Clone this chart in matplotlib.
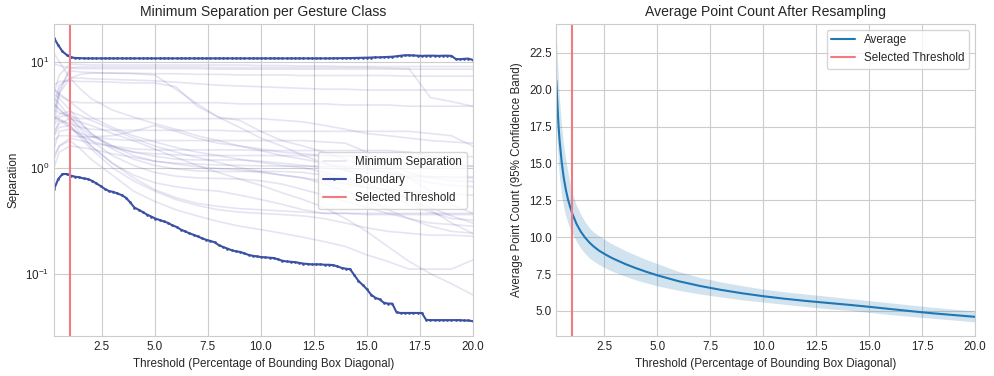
import numpy as np
import matplotlib
matplotlib.use("Agg")
import matplotlib.pyplot as plt
import seaborn as sns

sns.set_style("whitegrid")
plt.rcParams['font.family'] = ['Liberation Sans', 'DejaVu Sans']
plt.rcParams['mathtext.default'] = 'regular'

# ---------------- data ----------------
thresholds = np.linspace(0.25, 20.0, 100)
selected_threshold = 1.0

boundary_upper = [
    16.8, 14.3, 12.5, 11.6, 11.0, 10.85, 10.8, 10.77, 10.75, 10.75,
    10.75, 10.75, 10.75, 10.75, 10.75, 10.75, 10.75, 10.75, 10.75, 10.75,
    10.75, 10.75, 10.75, 10.75, 10.75, 10.75, 10.75, 10.75, 10.75, 10.75,
    10.75, 10.75, 10.75, 10.75, 10.75, 10.75, 10.75, 10.75, 10.75, 10.75,
    10.75, 10.75, 10.75, 10.75, 10.75, 10.75, 10.75, 10.75, 10.75, 10.75,
    10.75, 10.75, 10.75, 10.75, 10.75, 10.75, 10.75, 10.75, 10.75, 10.75,
    10.75, 10.75, 10.75, 10.75, 10.75, 10.75, 10.77, 10.78, 10.8, 10.8,
    10.82, 10.85, 10.87, 10.9, 10.92, 10.95, 11.0, 11.0, 11.05, 11.1,
    11.15, 11.25, 11.4, 11.5, 11.5, 11.45, 11.4, 11.35, 11.4, 11.4,
    11.4, 11.35, 11.4, 11.4, 11.35, 10.6, 10.55, 10.65, 10.7, 10.4,
]
boundary_lower = [
    0.625, 0.78, 0.87, 0.87, 0.84, 0.82, 0.81, 0.79, 0.78, 0.75,
    0.71, 0.67, 0.63, 0.60, 0.59, 0.57, 0.55, 0.52, 0.47, 0.42,
    0.40, 0.38, 0.36, 0.345, 0.33, 0.32, 0.31, 0.30, 0.285, 0.275,
    0.26, 0.25, 0.24, 0.232, 0.224, 0.215, 0.208, 0.203, 0.197, 0.185,
    0.178, 0.172, 0.166, 0.162, 0.160, 0.155, 0.150, 0.147, 0.145, 0.143,
    0.142, 0.141, 0.14, 0.136, 0.132, 0.130, 0.129, 0.128, 0.126, 0.124,
    0.123, 0.122, 0.122, 0.122, 0.121, 0.121, 0.120, 0.117, 0.113, 0.111,
    0.110, 0.097, 0.085, 0.078, 0.071, 0.063, 0.059, 0.057, 0.053, 0.052,
    0.052, 0.043, 0.0424, 0.0424, 0.0424, 0.0424, 0.0424, 0.0424, 0.0365, 0.0363,
    0.0363, 0.0363, 0.0363, 0.0363, 0.0363, 0.0363, 0.0363, 0.036, 0.036, 0.0355,
]

class_thresholds = [0.25, 0.5, 1, 1.5, 2, 3, 4, 5, 6, 7, 8, 9, 10, 11, 12,
                    13, 14, 15, 16, 17, 18, 19, 20]
class_separations = [
    [5.0, 7.5, 9.5, 9.4, 9.3, 9.3, 9.3, 9.3, 9.3, 9.3, 9.3, 9.3, 9.2, 9.2, 9.1, 9.1, 9.0, 9.0, 9.0, 9.0, 9.0, 9.0, 9.0],
    [9.5, 9.2, 8.7, 8.6, 8.6, 8.6, 8.6, 8.6, 8.6, 8.6, 8.5, 8.5, 8.5, 8.5, 8.5, 8.5, 8.5, 8.5, 8.5, 8.5, 8.5, 8.5, 8.5],
    [3.0, 5.5, 8.2, 8.0, 7.9, 7.8, 7.8, 7.7, 7.7, 7.6, 7.6, 7.5, 7.5, 7.5, 7.4, 7.4, 7.4, 7.4, 7.4, 7.3, 7.3, 7.3, 7.3],
    [4.0, 6.0, 7.0, 7.0, 6.9, 6.8, 6.7, 6.6, 6.4, 6.2, 6.0, 5.9, 5.8, 5.7, 5.6, 5.5, 5.5, 5.4, 5.4, 5.4, 5.4, 5.4, 5.4],
    [2.5, 5.0, 8.8, 8.9, 8.9, 8.9, 8.9, 8.9, 8.9, 8.9, 8.8, 8.8, 8.8, 8.8, 8.8, 8.8, 8.8, 8.8, 8.7, 8.6, 4.6, 4.2, 3.8],
    [3.5, 5.0, 7.0, 7.6, 7.8, 7.8, 7.7, 7.5, 5.5, 4.0, 3.0, 2.4, 1.9, 1.6, 1.3, 1.1, 0.95, 0.8, 0.65, 0.5, 0.4, 0.3, 0.24],
    [6.0, 6.5, 6.6, 6.5, 6.5, 6.4, 6.3, 6.3, 5.8, 3.8, 3.0, 2.8, 2.2, 1.8, 1.6, 1.4, 1.2, 1.0, 0.9, 0.8, 0.72, 0.68, 0.66],
    [5.5, 4.8, 4.2, 4.1, 4.1, 4.1, 4.1, 4.1, 4.1, 4.1, 4.1, 4.0, 4.0, 4.0, 4.0, 4.0, 3.9, 3.9, 3.9, 3.8, 3.8, 3.8, 3.8],
    [4.0, 3.5, 3.0, 2.9, 2.9, 2.9, 2.9, 2.9, 2.9, 2.9, 2.9, 2.9, 2.9, 2.8, 2.7, 2.5, 2.3, 2.1, 2.0, 1.9, 1.8, 1.75, 1.7],
    [2.0, 2.8, 2.6, 2.4, 2.3, 2.25, 2.25, 2.25, 2.25, 2.25, 2.25, 2.2, 2.2, 2.2, 2.2, 2.2, 2.2, 2.2, 2.2, 2.2, 2.1, 2.0, 1.6],
    [1.8, 2.0, 2.0, 1.95, 1.95, 2.0, 2.2, 2.5, 2.2, 1.9, 1.7, 1.6, 1.5, 1.4, 1.35, 1.3, 1.28, 1.27, 1.27, 1.27, 1.27, 1.27, 1.27],
    [1.5, 2.2, 2.3, 2.1, 1.95, 1.85, 1.8, 1.8, 1.8, 1.8, 1.8, 1.8, 1.8, 1.8, 1.8, 1.75, 1.7, 1.4, 1.1, 0.9, 0.8, 0.75, 0.74],
    [1.2, 1.6, 1.9, 1.8, 1.7, 1.6, 1.5, 1.47, 1.47, 1.47, 1.47, 1.47, 1.45, 1.45, 1.45, 1.45, 1.45, 1.45, 1.45, 1.4, 1.3, 1.1, 1.03],
    [3.0, 2.8, 2.4, 2.0, 1.8, 1.55, 1.4, 1.35, 1.32, 1.3, 1.3, 1.3, 1.3, 1.3, 1.3, 1.3, 1.3, 1.28, 1.0, 0.8, 0.6, 0.45, 0.37],
    [4.5, 4.0, 3.0, 2.4, 2.0, 1.6, 1.4, 1.28, 1.2, 1.18, 1.18, 1.18, 1.15, 1.1, 1.05, 1.0, 0.95, 0.9, 0.85, 0.82, 0.82, 0.82, 0.82],
    [2.5, 3.0, 3.2, 2.6, 2.1, 1.6, 1.3, 1.15, 1.1, 1.08, 1.06, 1.05, 1.04, 1.03, 1.03, 1.03, 1.03, 1.03, 1.03, 1.03, 1.03, 1.03, 1.03],
    [5.0, 4.5, 3.5, 2.7, 2.1, 1.5, 1.2, 1.05, 0.97, 0.93, 0.92, 0.92, 0.92, 0.92, 0.9, 0.85, 0.75, 0.65, 0.55, 0.45, 0.38, 0.33, 0.32],
    [3.5, 3.3, 3.0, 2.3, 1.8, 1.3, 1.05, 0.9, 0.83, 0.8, 0.79, 0.78, 0.75, 0.7, 0.62, 0.55, 0.48, 0.42, 0.37, 0.33, 0.3, 0.29, 0.28],
    [4.0, 3.6, 2.8, 2.1, 1.6, 1.1, 0.85, 0.72, 0.66, 0.62, 0.6, 0.55, 0.5, 0.45, 0.4, 0.37, 0.37, 0.37, 0.37, 0.37, 0.37, 0.37, 0.37],
    [2.0, 2.4, 2.5, 2.0, 1.6, 1.1, 0.8, 0.62, 0.52, 0.46, 0.43, 0.41, 0.4, 0.39, 0.38, 0.37, 0.37, 0.36, 0.36, 0.36, 0.36, 0.36, 0.36],
    [3.0, 2.9, 2.5, 1.9, 1.5, 1.0, 0.75, 0.6, 0.5, 0.44, 0.4, 0.38, 0.37, 0.36, 0.35, 0.33, 0.3, 0.27, 0.25, 0.24, 0.23, 0.23, 0.225],
    [1.3, 1.6, 1.8, 1.5, 1.2, 0.85, 0.6, 0.48, 0.4, 0.35, 0.31, 0.28, 0.26, 0.24, 0.22, 0.2, 0.18, 0.15, 0.13, 0.11, 0.11, 0.11, 0.134],
    [2.2, 2.6, 2.9, 2.7, 2.5, 2.1, 1.8, 1.5, 1.25, 1.05, 0.9, 0.78, 0.68, 0.58, 0.5, 0.42, 0.33, 0.25, 0.18, 0.13, 0.1, 0.08, 0.063],
    [12.0, 10.0, 7.0, 5.5, 4.5, 3.5, 3.0, 2.6, 2.3, 2.0, 1.8, 1.6, 1.45, 1.3, 1.2, 1.1, 1.0, 0.95, 0.9, 0.85, 0.82, 0.8, 0.8],
    [5.5, 5.0, 4.2, 3.5, 3.0, 2.4, 2.0, 1.75, 1.55, 1.4, 1.3, 1.2, 1.12, 1.05, 1.0, 0.9, 0.8, 0.7, 0.6, 0.5, 0.42, 0.35, 0.3],
    [2.8, 3.2, 3.4, 3.1, 2.8, 2.3, 1.9, 1.6, 1.4, 1.25, 1.12, 1.0, 0.92, 0.85, 0.8, 0.75, 0.7, 0.65, 0.62, 0.6, 0.58, 0.56, 0.55],
    [1.0, 1.4, 1.6, 1.55, 1.5, 1.35, 1.25, 1.15, 1.08, 1.02, 0.98, 0.95, 0.9, 0.85, 0.8, 0.7, 0.6, 0.5, 0.4, 0.33, 0.28, 0.25, 0.24],
]

count_thresholds = [0.25, 0.3, 0.35, 0.4, 0.5, 0.6, 0.7, 0.8, 0.9, 1.0, 1.2, 1.4,
                    1.6, 1.8, 2.0, 2.25, 2.5, 2.75, 3.0, 3.5, 4.0, 4.5, 5.0, 6.0,
                    7.0, 8.0, 9.0, 10, 11, 12, 13, 14, 15, 16, 17, 18, 19, 20]
count_mean = [20.6, 19.0, 17.6, 16.6, 15.1, 14.0, 13.2, 12.55, 12.05, 11.6, 10.9,
              10.38, 9.98, 9.65, 9.38, 9.1, 8.88, 8.68, 8.5, 8.18, 7.9, 7.65, 7.42,
              7.02, 6.7, 6.43, 6.2, 6.0, 5.83, 5.68, 5.55, 5.42, 5.28, 5.13, 4.98,
              4.84, 4.72, 4.6]
count_upper = [23.6, 22.0, 20.5, 19.3, 17.5, 16.2, 15.2, 14.4, 13.6, 12.95, 12.15,
               11.55, 11.05, 10.65, 10.35, 10.1, 9.88, 9.65, 9.45, 9.1, 8.78, 8.48,
               8.22, 7.68, 7.28, 6.97, 6.72, 6.48, 6.3, 6.15, 6.0, 5.85, 5.7, 5.55,
               5.4, 5.25, 5.12, 5.0]
count_lower = [17.8, 16.2, 14.9, 14.0, 12.8, 12.0, 11.4, 10.95, 10.55, 10.25, 9.7,
               9.25, 8.9, 8.6, 8.38, 8.15, 7.95, 7.78, 7.62, 7.35, 7.1, 6.9, 6.7,
               6.4, 6.15, 5.95, 5.75, 5.6, 5.45, 5.3, 5.15, 5.05, 4.9, 4.75, 4.62,
               4.5, 4.38, 4.25]

# ---------------- figure ----------------
fs = 8.4
fig, (ax1, ax2) = plt.subplots(1, 2, figsize=(9.95, 3.76), dpi=100)
fig.subplots_adjust(left=54/995, right=975/995, top=1-24/376, bottom=1-336/376,
                    wspace=0.2)

line_col = '#3b51a3'
faint_col = '#4b45a8'
red_col = '#f07b80'

for i, sep in enumerate(class_separations):
    ax1.plot(class_thresholds, sep, color=faint_col, alpha=0.14, lw=1.2,
             label='Minimum Separation' if i == 0 else None)
ax1.plot(thresholds, boundary_upper, color=line_col, lw=1.5, marker='.',
         markersize=1.8, label='Boundary')
ax1.plot(thresholds, boundary_lower, color=line_col, lw=1.5, marker='.',
         markersize=1.8)
ax1.axvline(selected_threshold, color=red_col, lw=1.5, label='Selected Threshold')
ax1.set_yscale('log')
ax1.set_xlim(0.25, 20.0)
ax1.set_ylim(0.0257, 22.7)
ax1.set_title('Minimum Separation per Gesture Class', fontsize=10.1, color='.15')
ax1.set_xlabel('Threshold (Percentage of Bounding Box Diagonal)', fontsize=fs, color='.15')
ax1.set_ylabel('Separation', fontsize=fs, color='.15')
ax1.set_xticks([2.5, 5.0, 7.5, 10.0, 12.5, 15.0, 17.5, 20.0])
ax1.tick_params(labelsize=fs, labelcolor='.15', which='both', length=0)
ax1.minorticks_off()
ax1.set_yticks([0.1, 1, 10])
ax1.legend(loc='center right', fontsize=fs, frameon=True)

ax2.fill_between(count_thresholds, count_lower, count_upper, color='tab:blue',
                 alpha=0.2, lw=0)
ax2.plot(count_thresholds, count_mean, color='tab:blue', lw=1.5, label='Average')
ax2.axvline(selected_threshold, color=red_col, lw=1.5, label='Selected Threshold')
ax2.set_xlim(0.25, 20.0)
ax2.set_ylim(3.3, 24.45)
ax2.set_xticks([2.5, 5.0, 7.5, 10.0, 12.5, 15.0, 17.5, 20.0])
ax2.set_yticks([5.0, 7.5, 10.0, 12.5, 15.0, 17.5, 20.0, 22.5])
ax2.set_title('Average Point Count After Resampling', fontsize=10.1, color='.15')
ax2.set_xlabel('Threshold (Percentage of Bounding Box Diagonal)', fontsize=fs, color='.15')
ax2.set_ylabel('Average Point Count (95% Confidence Band)', fontsize=fs, color='.15')
ax2.tick_params(labelsize=fs, labelcolor='.15', length=0)
ax2.legend(loc='upper right', fontsize=fs, frameon=True)

fig.savefig('out.png', dpi=100)
